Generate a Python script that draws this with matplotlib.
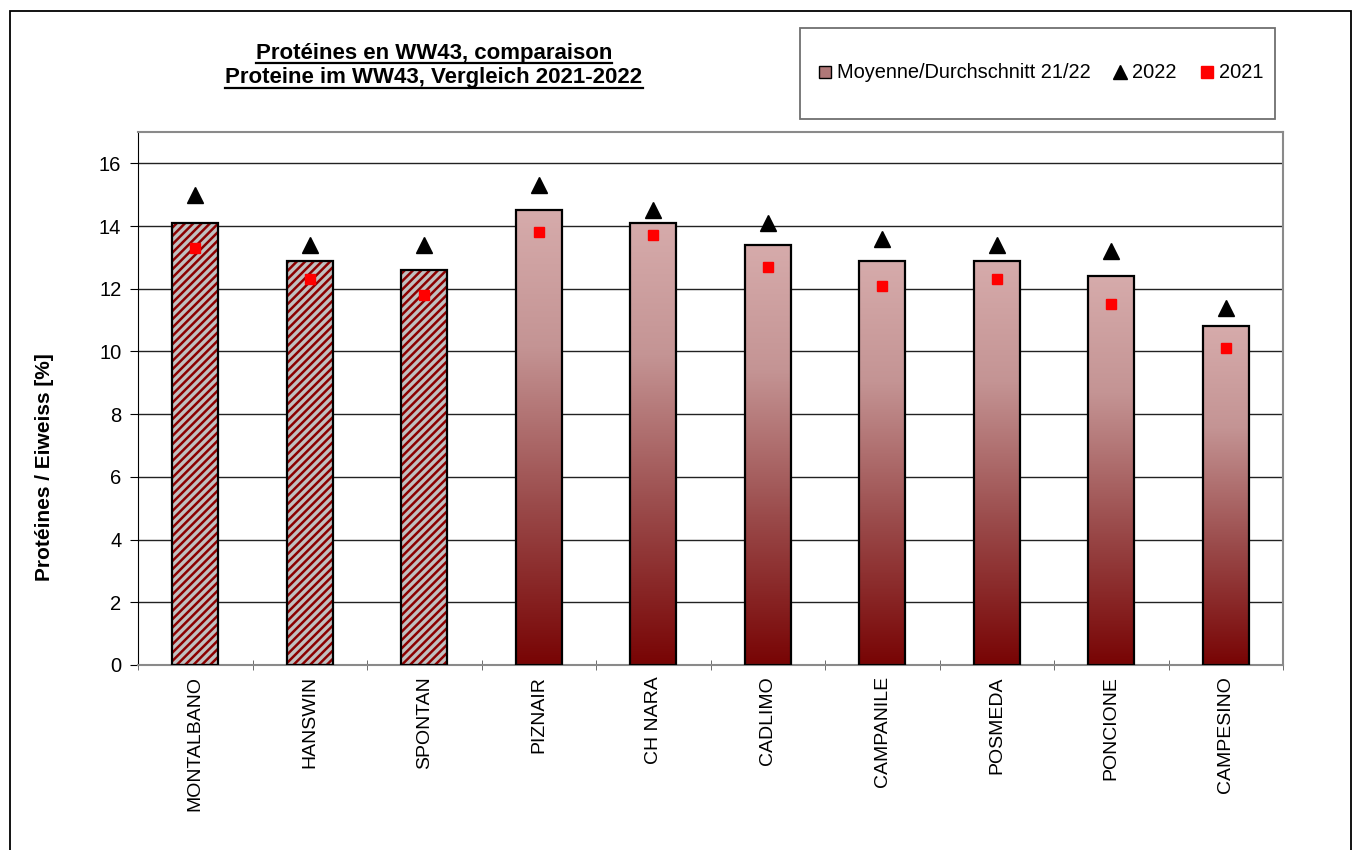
import matplotlib
matplotlib.use("Agg")
import matplotlib.pyplot as plt
import numpy as np
from matplotlib.colors import LinearSegmentedColormap
from matplotlib.lines import Line2D
from matplotlib.patches import Rectangle

varieties = ["MONTALBANO", "HANSWIN", "SPONTAN", "PIZNAIR", "CH NARA",
             "CADLIMO", "CAMPANILE", "POSMEDA", "PONCIONE", "CAMPESINO"]
mean_2122 = [14.1, 12.9, 12.6, 14.5, 14.1, 13.4, 12.9, 12.9, 12.4, 10.8]
val_2022 = [15.0, 13.4, 13.4, 15.3, 14.5, 14.1, 13.6, 13.4, 13.2, 11.4]
val_2021 = [13.3, 12.3, 11.8, 13.8, 13.7, 12.7, 12.1, 12.3, 11.5, 10.1]
hatched = [True, True, True, False, False, False, False, False, False, False]
y_ticks = [0, 2, 4, 6, 8, 10, 12, 14, 16]

plt.rcParams["font.family"] = ["Liberation Sans", "DejaVu Sans"]
plt.rcParams["hatch.linewidth"] = 1.8

fig = plt.figure(figsize=(13.6, 8.5), dpi=100)
ax = fig.add_axes([138 / 1360, 1 - 665 / 850, (1283 - 138) / 1360, (665 - 132) / 850])

cmap = LinearSegmentedColormap.from_list(
    "redfade", [(0.0, "#780404"), (0.35, "#9A4A4A"), (0.7, "#C49494"), (1.0, "#D6ABAB")])
grad = np.linspace(0, 1, 256).reshape(-1, 1)

x = np.arange(len(varieties))
width = 0.4
for xi, h, hat in zip(x, mean_2122, hatched):
    if hat:
        ax.bar(xi, h, width, color="#C0C0C0", edgecolor="#8B0000", hatch="////",
               linewidth=0, zorder=2)
    else:
        ax.imshow(grad, cmap=cmap, origin="lower", aspect="auto",
                  extent=[xi - width / 2, xi + width / 2, 0, h], zorder=2)
    ax.add_patch(Rectangle((xi - width / 2, 0), width, h, fill=False,
                           edgecolor="black", linewidth=1.6, zorder=3))

ax.plot(x, val_2022, linestyle="none", marker="^", color="black", markersize=11, zorder=4)
ax.plot(x, val_2021, linestyle="none", marker="s", color="#FF0000", markersize=7.5, zorder=4)

ax.set_xlim(-0.5, len(varieties) - 0.5)
ax.set_ylim(0, 17)
ax.set_yticks(y_ticks)
ax.set_xticks(x)
ax.set_xticklabels(varieties, rotation=90, fontsize=14)
ax.set_xticks(np.arange(len(varieties) + 1) - 0.5, minor=True)
ax.tick_params(axis="x", which="major", length=0, pad=8)
ax.tick_params(axis="x", which="minor", length=7, direction="inout", color="#555555")
ax.tick_params(axis="y", labelsize=14.5, length=6, direction="out", pad=6)
ax.grid(axis="y", color="#222222", linewidth=1.0, zorder=0)
ax.set_axisbelow(True)
ax.set_ylabel("Protéines / Eiweiss [%]", fontsize=15, fontweight="bold")
ax.yaxis.set_label_coords(-0.073, 0.372)

ax.spines["left"].set_color("black")
for side in ["top", "right", "bottom"]:
    ax.spines[side].set_color("#8A8A8A")
    ax.spines[side].set_linewidth(1.5)

# titles, underlined by hand
titles = ["Protéines en WW43, comparaison", "Proteine im WW43, Vergleich 2021-2022"]
title_objs = []
for i, t in enumerate(titles):
    title_objs.append(fig.text(434 / 1360, 1 - (53 + 25 * i) / 850, t, ha="center",
                               va="center", fontsize=16, fontweight="bold"))

# legend box
fig.patches.append(Rectangle((800 / 1360, 1 - 119 / 850), 475 / 1360, 91 / 850,
                             transform=fig.transFigure, fill=False,
                             edgecolor="#707070", linewidth=1.3))
handles = [
    Line2D([], [], linestyle="none", marker="s", markersize=9,
           markerfacecolor="#B07878", markeredgecolor="black"),
    Line2D([], [], linestyle="none", marker="^", markersize=10, color="black"),
    Line2D([], [], linestyle="none", marker="s", markersize=8, color="#FF0000"),
]
fig.legend(handles, ["Moyenne/Durchschnitt 21/22", "2022", "2021"], ncol=3,
           loc="center", bbox_to_anchor=(1040 / 1360, 1 - 73 / 850), frameon=False,
           fontsize=14.4, handlelength=0.8, handletextpad=0.2, columnspacing=1.1)

# outer frame
fig.patches.append(Rectangle((10 / 1360, -0.01), 1341 / 1360, 1 - 11 / 850 + 0.01,
                             transform=fig.transFigure, fill=False,
                             edgecolor="black", linewidth=1.3))

fig.canvas.draw()
renderer = fig.canvas.get_renderer()
inv = fig.transFigure.inverted()
for t in title_objs:
    bb = t.get_window_extent(renderer)
    (x0, y0), (x1, _) = inv.transform([(bb.x0, bb.y0 + 1), (bb.x1, bb.y0 + 1)])
    fig.add_artist(Line2D([x0, x1], [y0, y0], transform=fig.transFigure,
                          color="black", linewidth=1.6))

fig.savefig("out.png", dpi=100)
